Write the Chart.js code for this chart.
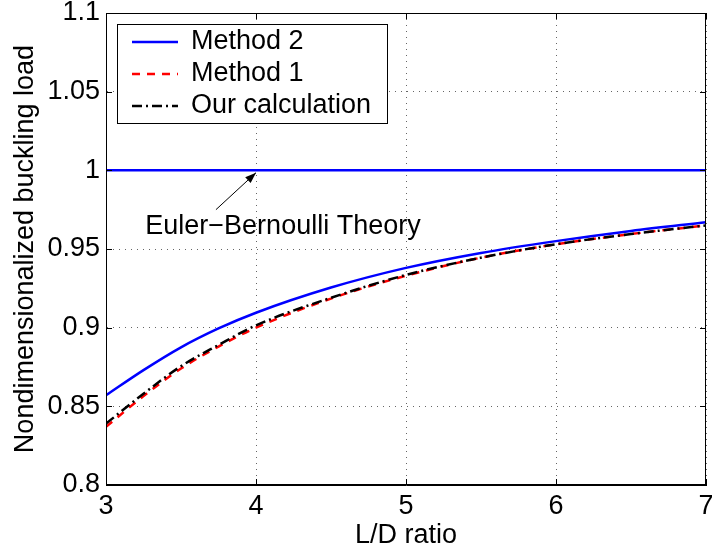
<!DOCTYPE html>
<html>
<head>
<meta charset="utf-8">
<script src="https://cdn.jsdelivr.net/npm/chart.js@4/dist/chart.umd.min.js"></script>
<style>
  html, body { margin: 0; padding: 0; background: #fff; }
  canvas { display: block; }
</style>
</head>
<body>
<canvas id="c" width="712" height="556"></canvas>
<script>
// ---- data ----
const ldRatio      = [3, 3.25, 3.5, 3.75, 4, 4.5, 5, 5.5, 6, 6.5, 7];
const method2      = [0.857, 0.873, 0.8875, 0.8995, 0.9095, 0.9255, 0.938, 0.9475, 0.955, 0.9615, 0.967];
const method1      = [0.837, 0.8565, 0.874, 0.888, 0.900, 0.9185, 0.933, 0.9445, 0.953, 0.9595, 0.965];
const ourCalc      = [0.839, 0.858, 0.8755, 0.889, 0.9015, 0.919, 0.9335, 0.9445, 0.953, 0.9595, 0.965];
const eulerX       = [3, 7];
const eulerY       = [1, 1];
const xTickLabels  = ['3', '4', '5', '6', '7'];
const yTickLabels  = ['0.8', '0.85', '0.9', '0.95', '1', '1.05', '1.1'];
const seriesNames  = ['Method 2', 'Method 1', 'Our calculation'];
const annotationText = 'Euler\u2212Bernoulli Theory';
const annotationPos  = {x: 3.262, y: 0.9641};
const arrowFrom      = {x: 3.733, y: 0.975};
const arrowTo        = {x: 4.0,   y: 0.9985};

const FONT = '"Liberation Sans", Arial, Helvetica, sans-serif';
const FS = 27;

const toPts = (xs, ys) => xs.map((x, i) => ({x: x, y: ys[i]}));

const boxAndTicks = {
  id: 'boxAndTicks',
  afterDatasetsDraw(chart) {
    const {ctx, chartArea: a, scales: {x, y}} = chart;
    ctx.save();
    ctx.strokeStyle = '#000';
    ctx.lineWidth = 1;
    ctx.beginPath();
    const tl = 6;
    x.ticks.forEach(t => {
      const px = Math.round(x.getPixelForValue(t.value)) + 0.5;
      ctx.moveTo(px, a.bottom); ctx.lineTo(px, a.bottom - tl);
      ctx.moveTo(px, a.top); ctx.lineTo(px, a.top + tl);
    });
    y.ticks.forEach(t => {
      const py = Math.round(y.getPixelForValue(t.value)) + 0.5;
      ctx.moveTo(a.left, py); ctx.lineTo(a.left + tl, py);
      ctx.moveTo(a.right, py); ctx.lineTo(a.right - tl, py);
    });
    ctx.stroke();
    ctx.strokeRect(Math.round(a.left) + 0.5, Math.round(a.top) + 0.5,
                   Math.round(a.right - a.left) - 1, Math.round(a.bottom - a.top) - 1);

    // annotation: arrow + text
    const fx = x.getPixelForValue(arrowFrom.x), fy = y.getPixelForValue(arrowFrom.y);
    const tx = x.getPixelForValue(arrowTo.x),   ty = y.getPixelForValue(arrowTo.y);
    ctx.beginPath();
    ctx.moveTo(fx, fy); ctx.lineTo(tx, ty); ctx.stroke();
    const ang = Math.atan2(ty - fy, tx - fx);
    const hl = 11, hw = 4;
    ctx.beginPath();
    ctx.moveTo(tx, ty);
    ctx.lineTo(tx - hl * Math.cos(ang) + hw * Math.sin(ang), ty - hl * Math.sin(ang) - hw * Math.cos(ang));
    ctx.lineTo(tx - hl * Math.cos(ang) - hw * Math.sin(ang), ty - hl * Math.sin(ang) + hw * Math.cos(ang));
    ctx.closePath();
    ctx.fillStyle = '#000';
    ctx.fill();
    ctx.font = FS + 'px ' + FONT;
    ctx.textBaseline = 'middle';
    ctx.textAlign = 'left';
    ctx.fillText(annotationText, x.getPixelForValue(annotationPos.x), y.getPixelForValue(annotationPos.y));

    // legend box
    const lx = Math.round(a.left) + 11, ly = Math.round(a.top) + 11, lw = 270, lh = 99;
    ctx.fillStyle = '#fff';
    ctx.fillRect(lx, ly, lw, lh);
    ctx.strokeStyle = '#000';
    ctx.lineWidth = 1;
    ctx.strokeRect(lx + 0.5, ly + 0.5, lw, lh);
    const legendIdx = [1, 2, 3];
    legendIdx.forEach((di, k) => {
      const ds = chart.data.datasets[di];
      const cy = ly + 18 + k * 32;
      ctx.save();
      ctx.strokeStyle = ds.borderColor;
      ctx.lineWidth = ds.borderWidth;
      ctx.setLineDash(ds.borderDash || []);
      ctx.beginPath();
      ctx.moveTo(lx + 15, cy); ctx.lineTo(lx + 61, cy);
      ctx.stroke();
      ctx.restore();
      ctx.fillStyle = '#000';
      ctx.fillText(ds.label, lx + 74, cy);
    });
    ctx.restore();
  }
};

new Chart(document.getElementById('c'), {
  type: 'line',
  data: {
    datasets: [
      { label: 'Euler-Bernoulli', data: toPts(eulerX, eulerY), borderColor: '#0000ff', borderWidth: 2.5,
        pointRadius: 0, order: 4 },
      { label: seriesNames[0], data: toPts(ldRatio, method2), borderColor: '#0000ff', borderWidth: 2.5,
        pointRadius: 0, cubicInterpolationMode: 'monotone', order: 3 },
      { label: seriesNames[1], data: toPts(ldRatio, method1), borderColor: '#ff0000', borderWidth: 2.5,
        borderDash: [8, 7], pointRadius: 0, cubicInterpolationMode: 'monotone', order: 2 },
      { label: seriesNames[2], data: toPts(ldRatio, ourCalc), borderColor: '#000000', borderWidth: 2.5,
        borderDash: [10, 4, 2, 4], pointRadius: 0, cubicInterpolationMode: 'monotone', order: 1 }
    ]
  },
  options: {
    responsive: false,
    animation: false,
    devicePixelRatio: 1,
    layout: { padding: { top: 13, right: 6, left: 0, bottom: 0 } },
    plugins: { legend: { display: false }, tooltip: { enabled: false } },
    scales: {
      x: {
        type: 'linear', min: 3, max: 7,
        afterBuildTicks: s => { s.ticks = xTickLabels.map(v => ({value: +v})); },
        ticks: { color: '#000', font: { family: FONT, size: FS }, padding: 5,
                 maxRotation: 0, autoSkip: false,
                 callback: v => xTickLabels.find(l => +l === v) },
        grid: { color: 'rgba(0,0,0,0.6)', lineWidth: 1, drawTicks: false },
        border: { display: true, color: '#000', width: 1, dash: [1, 5] },
        title: { display: true, text: 'L/D ratio', color: '#000',
                 font: { family: FONT, size: FS }, padding: { top: 0, bottom: 4 } },
        afterFit: s => { s.height = 71; s.paddingLeft = 0; s.paddingRight = 0; }
      },
      y: {
        type: 'linear', min: 0.8, max: 1.1,
        afterBuildTicks: s => { s.ticks = yTickLabels.map(v => ({value: +v})); },
        ticks: { color: '#000', font: { family: FONT, size: FS }, padding: 6, autoSkip: false,
                 callback: v => yTickLabels.find(l => Math.abs(+l - v) < 1e-9) },
        grid: { color: 'rgba(0,0,0,0.6)', lineWidth: 1, drawTicks: false },
        border: { display: true, color: '#000', width: 1, dash: [1, 5] },
        title: { display: true, text: 'Nondimensionalized buckling load', color: '#000',
                 font: { family: FONT, size: FS }, padding: { top: 9, bottom: 0 } },
        afterFit: s => { s.width = 106; s.paddingTop = 0; s.paddingBottom = 0; }
      }
    }
  },
  plugins: [boxAndTicks]
});
</script>
</body>
</html>
